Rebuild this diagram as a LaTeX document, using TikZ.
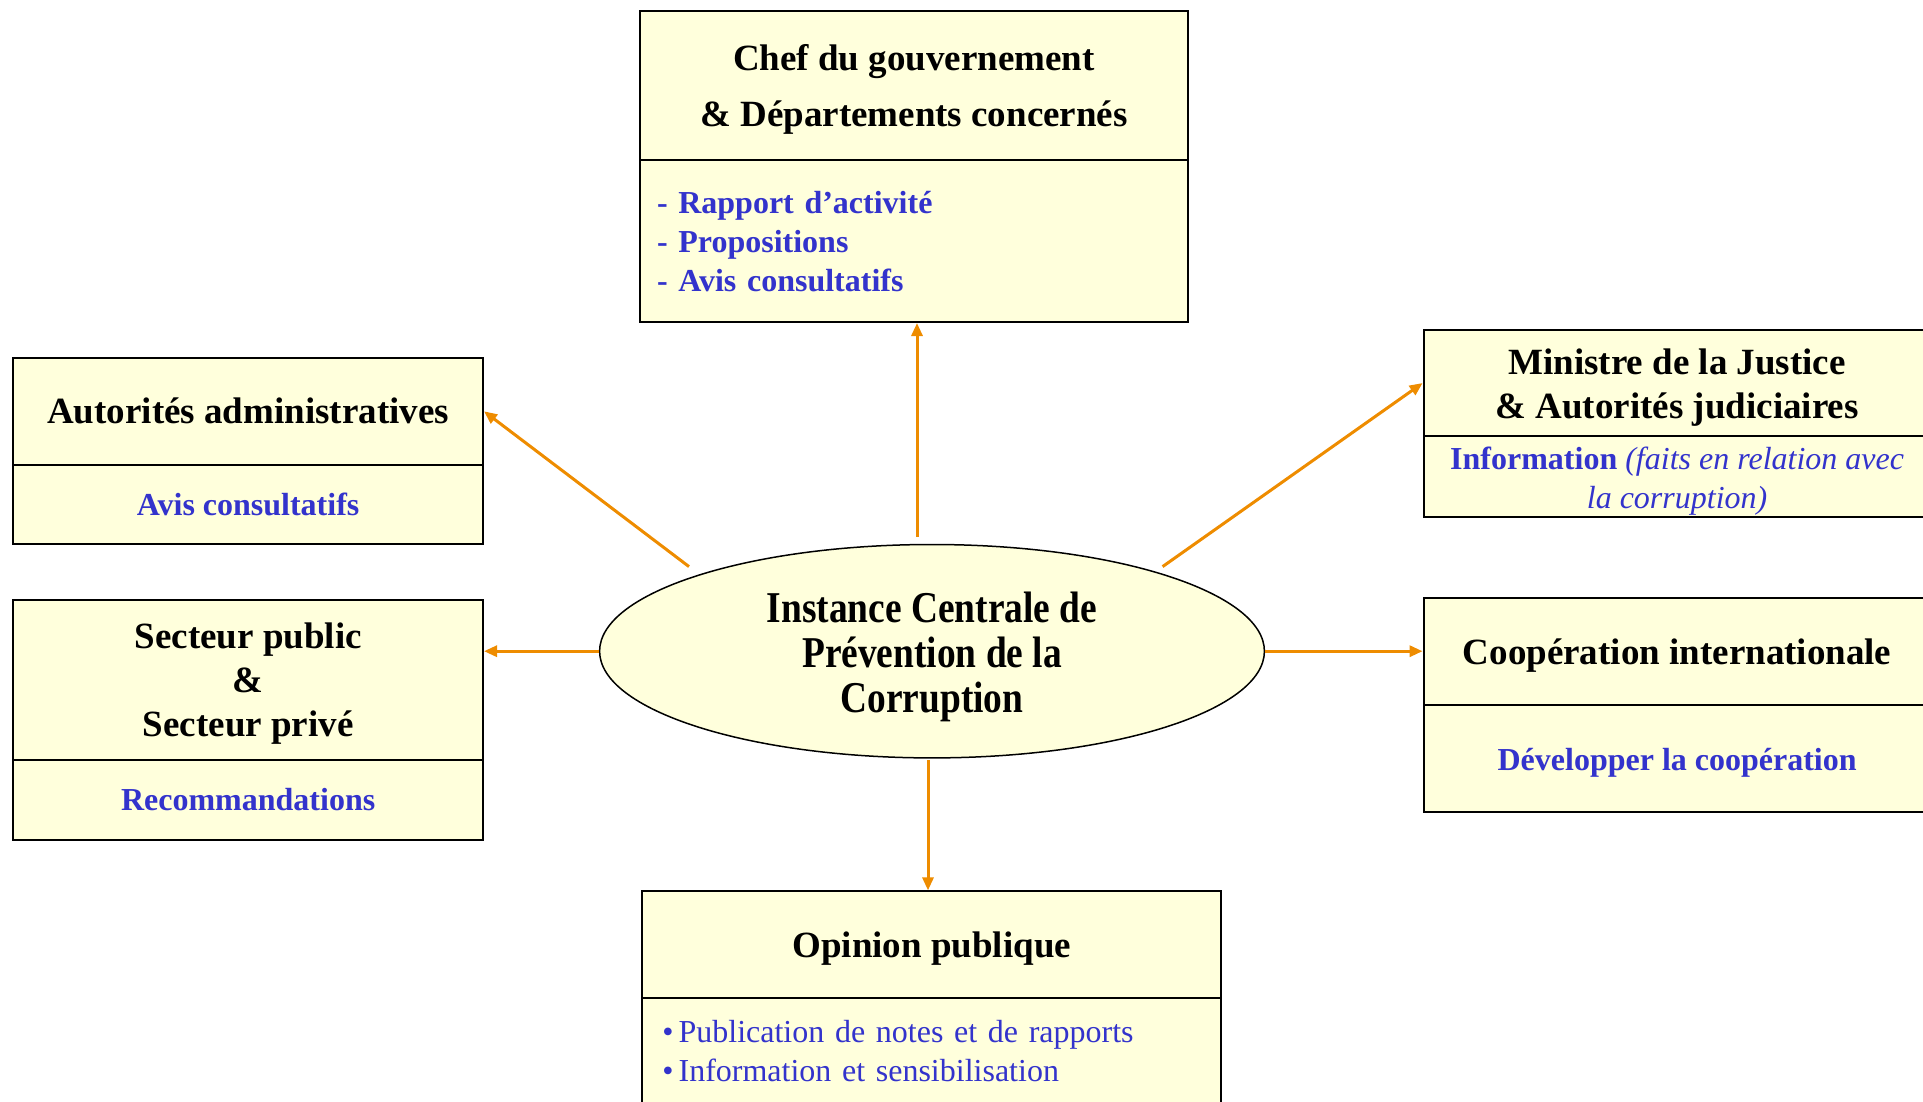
\documentclass[tikz,border=0pt]{standalone}
\usepackage{fontspec}
\usepackage{graphicx}
\setmainfont{Liberation Serif}
\usetikzlibrary{shapes.geometric,arrows.meta}
\definecolor{boxfill}{HTML}{FFFFDC}
\definecolor{txtblue}{HTML}{3333CC}
\definecolor{arrorange}{HTML}{EE8C00}
\newcommand\sqz[1]{\scalebox{0.85}[1]{#1}}
\begin{document}
\begin{tikzpicture}[x=1pt,y=-1pt,
  cell/.style={draw=black, line width=2pt, fill=boxfill, inner sep=0pt, anchor=north west},
  txt/.style={inner sep=0pt, align=center},
  ttl/.style={txt, font=\bfseries\fontsize{37}{44}\selectfont},
  blu/.style={txt, text=txtblue, font=\bfseries\fontsize{32}{39}\selectfont},
  blureg/.style={txt, text=txtblue, font=\fontsize{32}{39}\selectfont},
  arr/.style={draw=arrorange, line width=3pt, -{Triangle[length=13pt,width=11pt]}}]
\useasboundingbox (0,0) rectangle (1923,1101);
\clip (0,0) rectangle (1923,1101);

% Boxes
\node[cell, minimum width=548pt, minimum height=149.6pt] (chefA) at (639,9.8) {};
\node[cell, minimum width=548pt, minimum height=161.6pt] (chefB) at (639,159.4) {};
\node[cell, minimum width=469.7pt, minimum height=106.6pt] (autA) at (12.3,357) {};
\node[cell, minimum width=469.7pt, minimum height=79.4pt] (autB) at (12.3,463.6) {};
\node[cell, minimum width=469.7pt, minimum height=160.5pt] (secA) at (12.3,598.5) {};
\node[cell, minimum width=469.7pt, minimum height=80pt] (secB) at (12.3,759) {};
\node[cell, minimum width=507pt, minimum height=106.7pt] (minA) at (1422.6,328.7) {};
\node[cell, minimum width=507pt, minimum height=80.9pt] (minB) at (1422.6,435.4) {};
\node[cell, minimum width=507pt, minimum height=106.7pt] (coopA) at (1422.6,597.3) {};
\node[cell, minimum width=507pt, minimum height=106.6pt] (coopB) at (1422.6,704) {};
\node[cell, minimum width=578.6pt, minimum height=106.6pt] (opA) at (641.4,890.4) {};
\node[cell, minimum width=578.6pt, minimum height=115pt] (opB) at (641.4,997) {};

% Texts
\node[ttl, font=\bfseries\fontsize{37}{56}\selectfont] (chefAt) at ([yshift=-4pt]chefA.center)
  {Chef du gouvernement\\\& Départements concernés};
\node[blu, align=left, text width=514pt] (chefBt) at (chefB.center)
  {- Rapport d’activité\\- Propositions\\- Avis consultatifs};
\node[ttl] (autAt) at (autA.center) {Autorités administratives};
\node[blu] (autBt) at (autB.center) {Avis consultatifs};
\node[ttl] (secAt) at ([yshift=-4pt]secA.center) {Secteur public\\\&\\Secteur privé};
\node[blu] (secBt) at (secB.center) {Recommandations};
\node[ttl] (minAt) at ([yshift=-5pt]minA.center) {Ministre de la Justice\\\& Autorités judiciaires};
\node[blureg] (minBt) at ([yshift=-4pt]minB.center)
  {\textbf{Information} \textit{(faits en relation avec}\\\textit{la corruption)}};
\node[ttl] (coopAt) at ([yshift=-4pt]coopA.center) {Coopération internationale};
\node[blu] (coopBt) at ([yshift=-4pt]coopB.center) {Développer la coopération};
\node[ttl] (opAt) at ([yshift=-4pt]opA.center) {Opinion publique};
\node[blureg, align=left, text width=538.6pt] (opBt) at ([yshift=4pt]opB.center)
  {•\hspace{5pt}Publication de notes et de rapports\\•\hspace{5pt}Information et sensibilisation};

% Central ellipse
\node[ellipse, draw=black, line width=1.5pt, fill=boxfill, minimum width=664.8pt, minimum height=213.4pt, inner sep=0pt] (E) at (932,651.2) {};
\node[txt, font=\bfseries\fontsize{44}{45}\selectfont] (Et) at ([yshift=-6pt]E.center)
  {\sqz{Instance Centrale de}\\\sqz{Prévention de la}\\\sqz{Corruption}};

% Arrows
\coordinate (cU) at (917,537);
\coordinate (cUL) at (689,566.6);
\coordinate (cUR) at (1162.6,566.6);
\coordinate (cD) at (928,760);
\draw[arr] (cU) -- (cU |- chefB.south);
\draw[arr] (cUL) -- (autA.east);
\draw[arr] (E.west) -- (E.west -| secA.east);
\draw[arr] (cUR) -- (minA.west);
\draw[arr] (E.east) -- (E.east -| coopA.west);
\draw[arr] (cD) -- (cD |- opA.north);
\end{tikzpicture}
\end{document}
